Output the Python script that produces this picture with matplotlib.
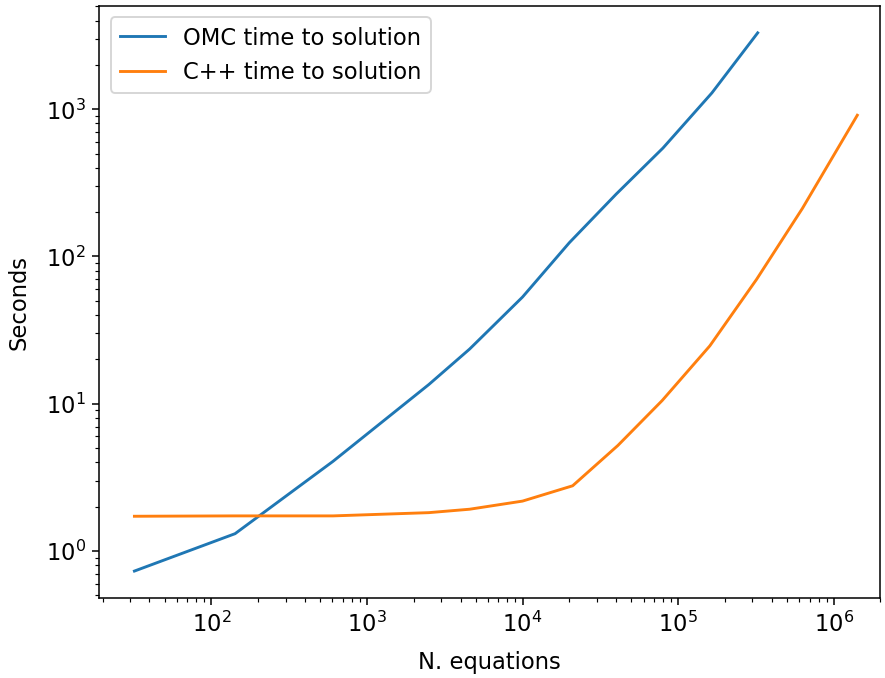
import numpy as np

import matplotlib
matplotlib.use("Agg")
import matplotlib.pyplot as plt

# number of equations vs. time to solution (seconds)
omc_n = [32, 142, 605, 2500, 4570, 10000, 20000, 40000, 80000, 165000, 325000]
omc_time = [0.73, 1.31, 4.06, 13.5, 23.5, 53, 124, 265, 545, 1290, 3300]

cpp_n = [32, 142, 605, 2500, 4570, 10000, 21000, 41000, 79000, 160000, 320000, 630000, 1420000]
cpp_time = [1.72, 1.73, 1.73, 1.82, 1.92, 2.18, 2.77, 5.2, 10.5, 24.7, 70, 212, 910]

plt.rcParams["font.size"] = 11.8

fig = plt.figure(figsize=(6.4, 4.9), dpi=138.4)
ax = fig.add_axes([0.112, 0.118, 0.882, 0.873])

ax.plot(omc_n, omc_time, label="OMC time to solution")
ax.plot(cpp_n, cpp_time, label="C++ time to solution")

ax.set_xscale("log")
ax.set_yscale("log")
ax.set_xlim(19, 2.0e6)
ax.set_xlabel("N. equations", labelpad=7.5)
ax.set_ylabel("Seconds", labelpad=8)
ax.legend(loc="upper left")

fig.savefig("out.png", dpi=138.4)
